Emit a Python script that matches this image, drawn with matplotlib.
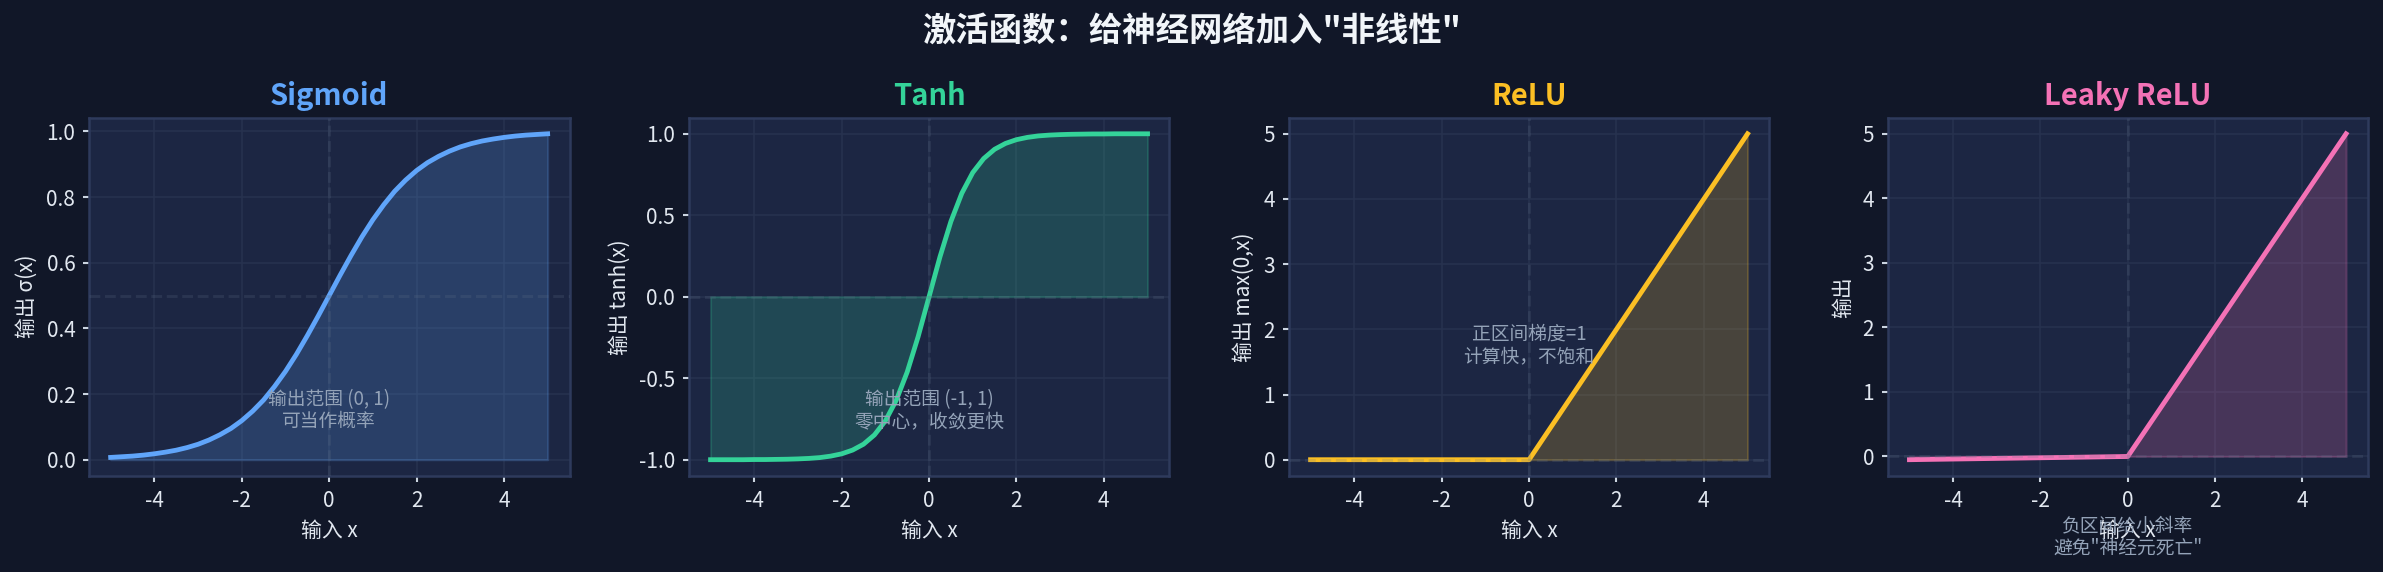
import numpy as np
import matplotlib
matplotlib.use("Agg")
import matplotlib.pyplot as plt

plt.rcParams['font.family'] = ['Noto Sans CJK SC', 'DejaVu Sans']
plt.rcParams['axes.unicode_minus'] = False

# ---------------- data ----------------
x_vals = [-5.0, -4.75, -4.5, -4.25, -4.0, -3.75, -3.5, -3.25, -3.0, -2.75,
          -2.5, -2.25, -2.0, -1.75, -1.5, -1.25, -1.0, -0.75, -0.5, -0.25,
          0.0, 0.25, 0.5, 0.75, 1.0, 1.25, 1.5, 1.75, 2.0, 2.25,
          2.5, 2.75, 3.0, 3.25, 3.5, 3.75, 4.0, 4.25, 4.5, 4.75, 5.0]

sigmoid_vals = [0.007, 0.009, 0.011, 0.014, 0.018, 0.023, 0.029, 0.037, 0.047, 0.060,
                0.076, 0.095, 0.119, 0.148, 0.182, 0.223, 0.269, 0.321, 0.378, 0.438,
                0.500, 0.562, 0.622, 0.679, 0.731, 0.777, 0.818, 0.852, 0.881, 0.905,
                0.924, 0.940, 0.953, 0.963, 0.971, 0.977, 0.982, 0.986, 0.989, 0.991, 0.993]

tanh_vals = [-1.000, -1.000, -1.000, -1.000, -0.999, -0.999, -0.998, -0.997, -0.995, -0.992,
             -0.987, -0.978, -0.964, -0.941, -0.905, -0.848, -0.762, -0.635, -0.462, -0.245,
             0.000, 0.245, 0.462, 0.635, 0.762, 0.848, 0.905, 0.941, 0.964, 0.978,
             0.987, 0.992, 0.995, 0.997, 0.998, 0.999, 0.999, 1.000, 1.000, 1.000, 1.000]

relu_x = [-5.0, 0.0, 5.0]
relu_vals = [0.0, 0.0, 5.0]

leaky_x = [-5.0, 0.0, 5.0]
leaky_vals = [-0.05, 0.0, 5.0]

titles = ['Sigmoid', 'Tanh', 'ReLU', 'Leaky ReLU']
ylabels = ['输出 σ(x)', '输出 tanh(x)', '输出 max(0,x)', '输出']
xlabel = '输入 x'
ref_levels = [0.5, 0.0, 0.0, 0.0]
notes = ['输出范围 (0, 1)\n可当作概率',
         '输出范围 (-1, 1)\n零中心，收敛更快',
         '正区间梯度=1\n计算快，不饱和',
         '负区间给小斜率\n避免"神经元死亡"']
note_pos = [(0, 0.15), (0, -0.7), (0, 1.75), (0, -1.25)]
suptitle = '激活函数：给神经网络加入"非线性"'

colors = ['#60a5fa', '#34d399', '#fbbf24', '#f472b6']

# ---------------- style ----------------
BG = '#111728'
AX_BG = '#1c2643'
SPINE = '#2e3a5c'
GRID = '#27324f'
TEXT = '#e2e8f0'
NOTE = '#94a3b8'

W, H = 2383, 572
fig = plt.figure(figsize=(W / 150, H / 150), dpi=150, facecolor=BG)

lefts = [88.8, 688.7, 1288.7, 1887.6]
widths = [480.7, 480.7, 480.7, 480.3]
bottom = 1 - 476 / H
height = (476 - 117.5) / H

series = [(x_vals, sigmoid_vals), (x_vals, tanh_vals),
          (relu_x, relu_vals), (leaky_x, leaky_vals)]

for i in range(4):
    ax = fig.add_axes([lefts[i] / W, bottom, widths[i] / W, height])
    ax.set_facecolor(AX_BG)
    xs, ys = series[i]
    c = colors[i]
    ax.plot(xs, ys, color=c, lw=2.3, zorder=3)
    ax.fill_between(xs, ys, 0, color=c, alpha=0.2, zorder=2)
    ax.axhline(ref_levels[i], color='#64748b', ls='--', lw=1.4, alpha=0.2, zorder=4)
    ax.axvline(0, color='#64748b', ls='--', lw=1.4, alpha=0.2, zorder=4)
    ax.grid(True, color=GRID, lw=0.8, alpha=0.9, zorder=0)
    ax.set_axisbelow(True)
    for sp in ax.spines.values():
        sp.set_color(SPINE)
        sp.set_linewidth(1.2)
    ax.tick_params(colors='#cbd5e1', labelcolor=TEXT, labelsize=10, length=3, width=1)
    ax.set_title(titles[i], color=c, fontsize=14, fontweight='bold', pad=6)
    ax.set_xlabel(xlabel, color=TEXT, fontsize=10)
    ax.set_ylabel(ylabels[i], color=TEXT, fontsize=10)
    ax.set_xticks([-4, -2, 0, 2, 4])
    if i == 1:
        ax.set_yticks([-1.0, -0.5, 0.0, 0.5, 1.0])
    ax.text(note_pos[i][0], note_pos[i][1], notes[i], color=NOTE, fontsize=9,
            ha='center', va='center', linespacing=1.1, zorder=5, clip_on=False)

fig.text(0.5, 1 - 31 / H, suptitle, ha='center', va='center', color='#f1f5f9',
         fontsize=16, fontweight='bold')

fig.savefig('out.png', dpi=150, facecolor=BG)
